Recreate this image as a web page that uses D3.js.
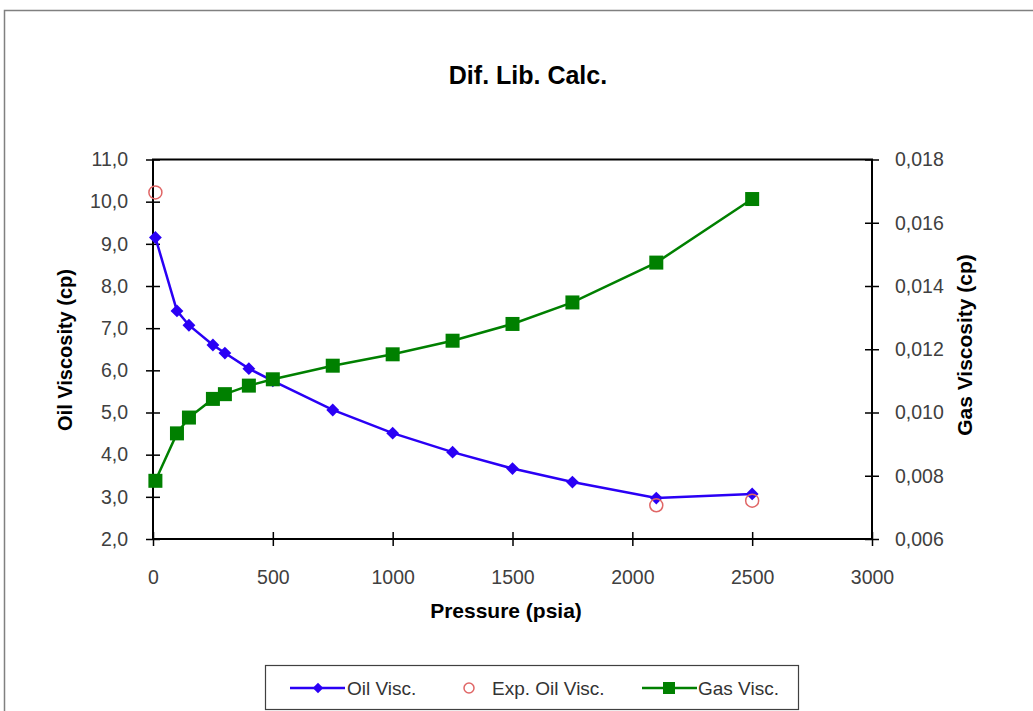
<!DOCTYPE html>
<html><head><meta charset="utf-8">
<script src="https://cdn.jsdelivr.net/npm/d3@7"></script>
<style>
html,body{margin:0;padding:0;background:#fff;}
svg{display:block;font-family:"Liberation Sans",Arial,sans-serif;}
</style></head>
<body>
<svg id="c" width="1033" height="711"></svg>
<script>
const pressure = [10, 100, 150, 250, 300, 400, 500, 750, 1000, 1250, 1500, 1750, 2100, 2500];
const oilVisc = [9.15, 7.41, 7.07, 6.60, 6.41, 6.04, 5.75, 5.06, 4.51, 4.06, 3.67, 3.35, 2.97, 3.07];
const expPressure = [10, 2100, 2500];
const expOilVisc = [10.22, 2.80, 2.91];
const gasVisc = [0.00784, 0.00934, 0.00984, 0.01043, 0.01058, 0.01085, 0.01105, 0.01148, 0.01184, 0.01227, 0.01280, 0.01348, 0.01474, 0.01675];
const xTicks = [0, 500, 1000, 1500, 2000, 2500, 3000];
const yLeftTicks = [2, 3, 4, 5, 6, 7, 8, 9, 10, 11];
const yRightTicks = [0.006, 0.008, 0.010, 0.012, 0.014, 0.016, 0.018];
const seriesNames = ["Oil Visc.", "Exp. Oil Visc.", "Gas Visc."];

const svg = d3.select("#c");
const L = 153, R = 872, T = 159.5, B = 539;
const x = d3.scaleLinear().domain([0, 3000]).range([L, R]);
const yL = d3.scaleLinear().domain([2, 11]).range([B, T]);
const yR = d3.scaleLinear().domain([0.006, 0.018]).range([B, T]);
const loc = d3.formatLocale({decimal: ",", thousands: ".", grouping: [3], currency: ["", ""]});
const f1 = loc.format(".1f"), f3 = loc.format(".3f");

// outer chart border
svg.append("path").attr("d", "M4.5,711 V10.5 H1033").attr("fill", "none").attr("stroke", "#808080").attr("stroke-width", 1.5);

// title
svg.append("text").attr("x", 528).attr("y", 84).attr("text-anchor", "middle")
  .attr("font-size", 25).attr("font-weight", "bold").attr("fill", "#000").text("Dif. Lib. Calc.");

// plot frame
svg.append("rect").attr("x", L).attr("y", T).attr("width", R - L).attr("height", B - T)
  .attr("fill", "none").attr("stroke", "#000").attr("stroke-width", 2);

function styleAxis(g) {
  g.select(".domain").remove();
  g.selectAll(".tick line").attr("stroke", "#000").attr("stroke-width", 1.5);
  g.selectAll(".tick text").attr("fill", "#404040").attr("font-size", 19.5)
    .attr("font-family", "Liberation Sans, Arial, sans-serif");
}
// bottom axis
const gx = svg.append("g").attr("transform", `translate(0,${B - 7})`)
  .call(d3.axisBottom(x).tickValues(xTicks).tickSize(14).tickPadding(24).tickFormat(d3.format("d")));
styleAxis(gx);
// left axis
const gl = svg.append("g").attr("transform", `translate(${L + 7},0)`)
  .call(d3.axisLeft(yL).tickValues(yLeftTicks).tickSize(14).tickPadding(18).tickFormat(f1));
styleAxis(gl);
// right axis
const gr = svg.append("g").attr("transform", `translate(${R - 7},0)`)
  .call(d3.axisRight(yR).tickValues(yRightTicks).tickSize(14).tickPadding(16).tickFormat(f3));
styleAxis(gr);

// axis titles
svg.append("text").attr("x", 506).attr("y", 618).attr("text-anchor", "middle")
  .attr("font-size", 21).attr("font-weight", "bold").text("Pressure (psia)");
svg.append("text").attr("transform", "translate(72,350) rotate(-90)").attr("text-anchor", "middle")
  .attr("font-size", 20).attr("font-weight", "bold").text("Oil Viscosity (cp)");
svg.append("text").attr("transform", "translate(972,345) rotate(-90)").attr("text-anchor", "middle")
  .attr("font-size", 21).attr("font-weight", "bold").text("Gas Viscosity (cp)");

const blue = "#2a00f5", green = "#008000", red = "#e06666";
const oilData = pressure.map((p, i) => [p, oilVisc[i]]);
const gasData = pressure.map((p, i) => [p, gasVisc[i]]);
const expData = expPressure.map((p, i) => [p, expOilVisc[i]]);

// gas line
svg.append("path").datum(gasData).attr("fill", "none").attr("stroke", green).attr("stroke-width", 2.5)
  .attr("d", d3.line().x(d => x(d[0])).y(d => yR(d[1])));
// oil line
svg.append("path").datum(oilData).attr("fill", "none").attr("stroke", blue).attr("stroke-width", 2.5)
  .attr("d", d3.line().x(d => x(d[0])).y(d => yL(d[1])));
// oil diamonds
const diamond = d3.symbol().type(d3.symbolDiamond2).size(105);
svg.append("g").selectAll("path").data(oilData).join("path")
  .attr("d", diamond).attr("transform", d => `translate(${x(d[0])},${yL(d[1])})`).attr("fill", blue);
// gas squares
svg.append("g").selectAll("rect").data(gasData).join("rect")
  .attr("x", d => x(d[0]) - 7).attr("y", d => yR(d[1]) - 7).attr("width", 14).attr("height", 14).attr("fill", green);
// exp circles
svg.append("g").selectAll("circle").data(expData).join("circle")
  .attr("cx", d => x(d[0])).attr("cy", d => yL(d[1])).attr("r", 6.5)
  .attr("fill", "none").attr("stroke", red).attr("stroke-width", 1.5);

// legend
const lg = svg.append("g");
lg.append("rect").attr("x", 265.5).attr("y", 665.5).attr("width", 533).attr("height", 44)
  .attr("fill", "#fff").attr("stroke", "#404040").attr("stroke-width", 1.2);
const ly = 688;
const diamondSm = d3.symbol().type(d3.symbolDiamond2).size(70);
lg.append("line").attr("x1", 290).attr("x2", 345).attr("y1", ly).attr("y2", ly).attr("stroke", blue).attr("stroke-width", 2.5);
lg.append("path").attr("d", diamondSm).attr("transform", `translate(318,${ly})`).attr("fill", blue);
lg.append("text").attr("x", 347).attr("y", ly + 7).attr("font-size", 19).attr("fill", "#333").text(seriesNames[0]);
lg.append("circle").attr("cx", 469).attr("cy", ly).attr("r", 5).attr("fill", "none").attr("stroke", red).attr("stroke-width", 1.5);
lg.append("text").attr("x", 492).attr("y", ly + 7).attr("font-size", 19).attr("fill", "#333").text(seriesNames[1]);
lg.append("line").attr("x1", 642).attr("x2", 697).attr("y1", ly).attr("y2", ly).attr("stroke", green).attr("stroke-width", 2.5);
lg.append("rect").attr("x", 663).attr("y", ly - 6).attr("width", 12).attr("height", 12).attr("fill", green);
lg.append("text").attr("x", 698).attr("y", ly + 7).attr("font-size", 19).attr("fill", "#333").text(seriesNames[2]);
</script>
</body></html>
